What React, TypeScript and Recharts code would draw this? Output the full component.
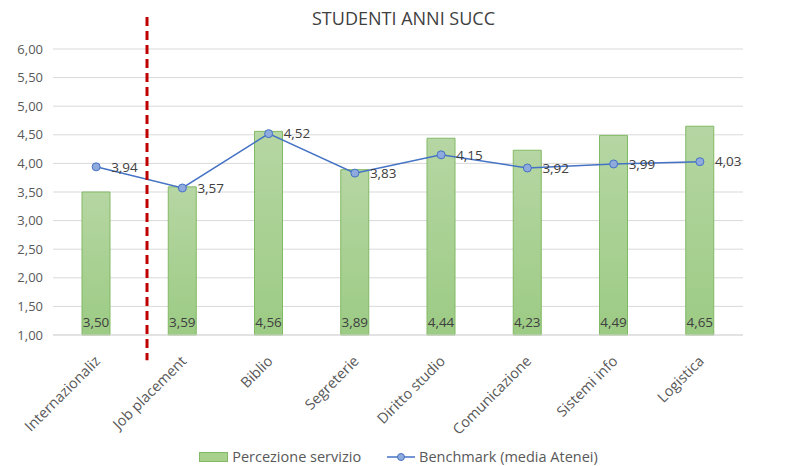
import {
  Bar,
  CartesianGrid,
  ComposedChart,
  LabelList,
  Legend,
  Line,
  ReferenceLine,
  XAxis,
  YAxis,
} from 'recharts';

const categories = [
  'Internazionaliz',
  'Job placement',
  'Biblio',
  'Segreterie',
  'Diritto studio',
  'Comunicazione',
  'Sistemi info',
  'Logistica',
];
const percezione = [3.5, 3.59, 4.56, 3.89, 4.44, 4.23, 4.49, 4.65];
const benchmark = [3.94, 3.57, 4.52, 3.83, 4.15, 3.92, 3.99, 4.03];
const yTicks = [1, 1.5, 2, 2.5, 3, 3.5, 4, 4.5, 5, 5.5, 6];

const data = categories.map((name, i) => ({
  name,
  percezione: percezione[i],
  benchmark: benchmark[i],
  pos: i + 0.5,
}));

const font = "'Open Sans', sans-serif";
const fmt = (v: number) => v.toFixed(2).replace('.', ',');

function XTick({ x, y, payload }: any) {
  return (
    <text
      x={x + 5}
      y={y + 19}
      transform={`rotate(-45, ${x + 5}, ${y + 19})`}
      textAnchor="end"
      fontSize={14.5}
      fontFamily={font}
      fill="#595959"
    >
      {payload.value}
    </text>
  );
}

function LegendBox() {
  return (
    <div
      style={{
        display: 'flex',
        justifyContent: 'center',
        alignItems: 'center',
        fontFamily: font,
        fontSize: 14.5,
        color: '#595959',
        gap: 26,
        paddingLeft: 10,
        marginTop: 5,
      }}
    >
      <span style={{ display: 'flex', alignItems: 'center', gap: 4 }}>
        <span
          style={{
            width: 27,
            height: 8,
            background: '#a9d18e',
            border: '1px solid #82b964',
            display: 'inline-block',
          }}
        />
        Percezione servizio
      </span>
      <span style={{ display: 'flex', alignItems: 'center', gap: 4 }}>
        <svg width={28} height={10}>
          <line x1={0} y1={5} x2={28} y2={5} stroke="#4472c4" strokeWidth={1.5} />
          <circle cx={14} cy={5} r={3.5} fill="#8faadc" stroke="#4472c4" strokeWidth={1} />
        </svg>
        Benchmark (media Atenei)
      </span>
    </div>
  );
}

export default function App() {
  return (
    <div style={{ position: 'absolute', left: 0, top: 0, width: 787, height: 466, background: '#fff' }}>
      <div
        style={{
          position: 'absolute',
          top: 6,
          left: 0,
          width: 787,
          textAlign: 'center',
          fontFamily: font,
          fontSize: 18,
          color: '#404040',
          paddingLeft: 10,
        }}
      >
        STUDENTI ANNI SUCC
      </div>
      <ComposedChart
        width={787}
        height={466}
        data={data}
        margin={{ top: 49, right: 0, bottom: 0, left: 0 }}
      >
        <defs>
          <linearGradient id="barFill" x1="0" y1="0" x2="0" y2="1">
            <stop offset="0%" stopColor="#b6d6a3" />
            <stop offset="100%" stopColor="#9ccb84" />
          </linearGradient>
        </defs>
        <CartesianGrid vertical={false} stroke="#d9d9d9" yAxisId="left" xAxisId="cat" />
        <XAxis
          dataKey="name"
          xAxisId="cat"
          interval={0}
          tick={<XTick />}
          tickLine={false}
          axisLine={{ stroke: '#d9d9d9' }}
          height={107}
        />
        <XAxis
          xAxisId="num"
          dataKey="pos"
          type="number"
          domain={[0, 8]}
          allowDataOverflow
          hide
        />
        <YAxis
          yAxisId="left"
          domain={[1, 6]}
          ticks={yTicks}
          tickFormatter={fmt}
          axisLine={false}
          tickLine={false}
          width={53}
          tick={{ fontSize: 13, fontFamily: font, fill: '#595959' }}
          tickMargin={4}
        />
        <YAxis
          yAxisId="right"
          orientation="right"
          domain={[1, 6]}
          ticks={yTicks}
          tickFormatter={fmt}
          axisLine={false}
          tickLine={false}
          width={44}
          tick={{ fontSize: 13, fontFamily: font, fill: '#595959', textAnchor: 'start' }}
          tickMargin={4}
        />
        <Legend verticalAlign="bottom" height={24} content={<LegendBox />} />
        <Bar
          dataKey="percezione"
          name="Percezione servizio"
          xAxisId="cat"
          yAxisId="left"
          barSize={28}
          fill="url(#barFill)"
          stroke="#82b964"
          strokeWidth={1}
          isAnimationActive={false}
        >
          <LabelList
            dataKey="percezione"
            position="insideBottom"
            offset={8}
            formatter={(v: any) => fmt(Number(v))}
            style={{ fontSize: 13.5, fontFamily: font, fill: '#404040' }}
          />
        </Bar>
        <Line
          dataKey="benchmark"
          name="Benchmark (media Atenei)"
          xAxisId="cat"
          yAxisId="left"
          stroke="#4472c4"
          strokeWidth={1.5}
          dot={{ r: 4, fill: '#8faadc', stroke: '#4472c4', strokeWidth: 1 }}
          activeDot={false}
          isAnimationActive={false}
        >
          <LabelList
            dataKey="benchmark"
            position="right"
            offset={15}
            formatter={(v: any) => fmt(Number(v))}
            style={{ fontSize: 13.5, fontFamily: font, fill: '#404040' }}
          />
        </Line>
        <ReferenceLine
          xAxisId="num"
          yAxisId="left"
          segment={[
            { x: 1.09, y: 6.56 },
            { x: 1.09, y: 0.56 },
          ]}
          ifOverflow="visible"
          stroke="#c00000"
          strokeWidth={3}
          strokeDasharray="9 5"
        />
      </ComposedChart>
    </div>
  );
}
